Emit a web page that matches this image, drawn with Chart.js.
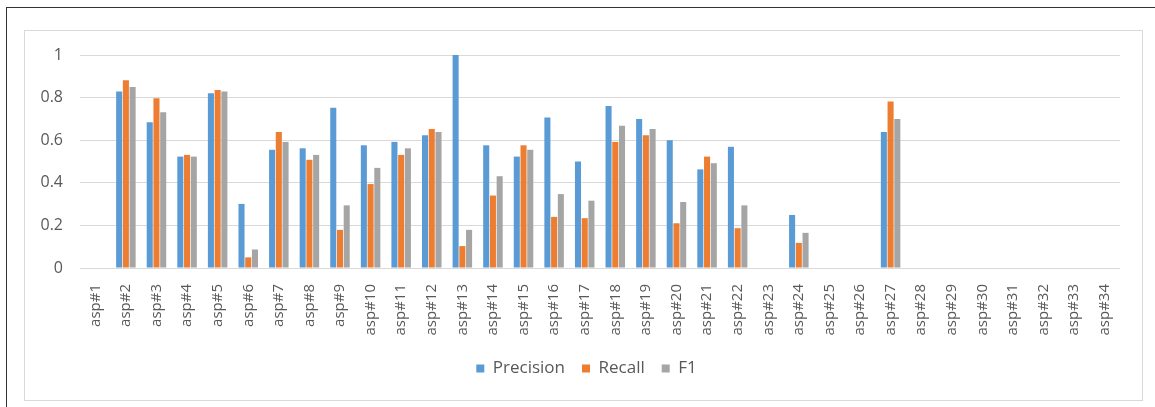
<!DOCTYPE html>
<html>
<head>
<meta charset="utf-8">
<script src="https://cdn.jsdelivr.net/npm/chart.js@4"></script>
<style>
  html, body { margin: 0; padding: 0; background: #fff; }
  body { width: 1155px; height: 407px; position: relative; overflow: hidden; }
  #outer { position: absolute; left: 6px; top: 7px; width: 1160px; height: 410px; border-left: 1px solid #333; border-top: 1px solid #333; box-sizing: border-box; }
  #inner { position: absolute; left: 24px; top: 30px; width: 1119px; height: 371px; border: 1px solid #d9d9d9; box-sizing: border-box; }
  #wrap { position: absolute; left: 0; top: 0; width: 1155px; height: 407px; }
</style>
</head>
<body>
<div id="outer"></div>
<div id="inner"></div>
<div id="wrap"><canvas id="c" width="1155" height="407"></canvas></div>
<script>
const categories = [];
for (let i = 1; i <= 34; i++) categories.push('asp#' + i);

const precision = [null, 0.829, 0.684, 0.523, 0.821, 0.301, 0.555, 0.562, 0.752, 0.576,
  0.592, 0.623, 1.0, 0.576, 0.523, 0.707, 0.500, 0.760, 0.699, 0.600,
  0.463, 0.569, null, 0.249, null, null, 0.639, null, null, null,
  null, null, null, null];
const recall = [null, 0.882, 0.797, 0.531, 0.836, 0.050, 0.639, 0.508, 0.179, 0.394,
  0.531, 0.653, 0.103, 0.340, 0.576, 0.240, 0.234, 0.592, 0.623, 0.210,
  0.523, 0.187, null, 0.118, null, null, 0.782, null, null, null,
  null, null, null, null];
const f1 = [null, 0.850, 0.731, 0.523, 0.829, 0.087, 0.592, 0.531, 0.294, 0.470,
  0.562, 0.639, 0.179, 0.431, 0.555, 0.347, 0.316, 0.668, 0.653, 0.310,
  0.492, 0.294, null, 0.165, null, null, 0.699, null, null, null,
  null, null, null, null];
const yTicks = [0, 0.2, 0.4, 0.6, 0.8, 1];

const textColor = '#595959';
const fontFamily = 'Open Sans, Lato, sans-serif';

const legendShift = {
  id: 'legendShift',
  afterLayout(chart) {
    const lg = chart.legend;
    if (!lg) return;
    const d = 586.5 - (lg.left + lg.right) / 2;
    lg.left += d; lg.right += d;
    if (lg.legendHitBoxes) lg.legendHitBoxes.forEach(b => { b.left += d; });
  }
};

new Chart(document.getElementById('c'), {
  type: 'bar',
  plugins: [legendShift],
  data: {
    labels: categories,
    datasets: [
      { label: 'Precision', data: precision, backgroundColor: '#5B9BD5' },
      { label: 'Recall', data: recall, backgroundColor: '#ED7D31' },
      { label: 'F1', data: f1, backgroundColor: '#A5A5A5' }
    ]
  },
  options: {
    responsive: false,
    animation: false,
    layout: { padding: { left: 0, right: 35, top: 55, bottom: 20 } },
    datasets: { bar: { categoryPercentage: 0.66, barPercentage: 0.9 } },
    plugins: {
      legend: {
        position: 'bottom',
        labels: {
          color: textColor,
          font: { family: fontFamily, size: 17 },
          boxWidth: 8, boxHeight: 8, padding: 17
        }
      },
      tooltip: { enabled: false }
    },
    scales: {
      x: {
        grid: { display: false },
        border: { display: false },
        ticks: {
          color: textColor, font: { family: fontFamily, size: 15 },
          minRotation: 90, maxRotation: 90, autoSkip: false, padding: 8
        },
        afterFit: s => { s.height = 75; }
      },
      y: {
        min: 0, max: 1,
        afterBuildTicks: s => { s.ticks = yTicks.map(v => ({ value: v })); },
        grid: { color: '#d9d9d9', lineWidth: 1, drawTicks: false },
        border: { display: false },
        ticks: {
          color: textColor, font: { family: fontFamily, size: 16 },
          padding: 17,
          callback: v => String(Math.round(v * 10) / 10)
        },
        afterFit: s => { s.width = 80; }
      }
    }
  }
});
</script>
</body>
</html>
